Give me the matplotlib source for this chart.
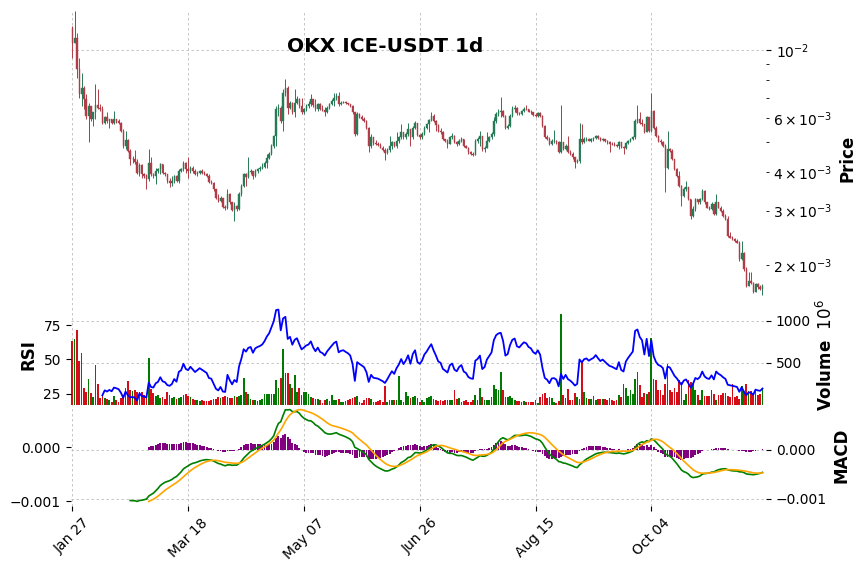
import numpy as np
import pandas as pd
import matplotlib
matplotlib.use("Agg")
import matplotlib.pyplot as plt

# daily OHLC, in milli-USDT (1e-3)
first_open = 11.82
close_m = [
    10.56, 10.97, 8.65, 7.18, 7.54, 6.91, 6.10, 6.58, 5.95, 6.26,
    6.62, 6.49, 6.41, 5.80, 6.03, 5.88, 5.95, 5.80, 5.95, 5.88,
    5.80, 5.45, 4.87, 5.10, 4.69, 4.41, 4.43, 4.32, 3.99, 4.23,
    3.94, 3.89, 3.80, 4.30, 3.94, 3.89, 4.04, 4.09, 4.25, 3.99,
    3.94, 3.75, 3.70, 3.75, 3.89, 3.75, 4.04, 4.09, 4.30, 4.09,
    4.04, 4.14, 4.04, 3.94, 3.99, 4.04, 3.99, 3.94, 3.89, 3.72,
    3.70, 3.52, 3.31, 3.23, 3.29, 3.09, 3.07, 3.39, 3.19, 3.02,
    3.11, 3.03, 3.39, 3.61, 3.94, 3.87, 4.01, 4.04, 3.89, 4.04,
    4.09, 4.12, 4.17, 4.28, 4.45, 4.58, 4.87, 5.23, 6.41, 6.49,
    5.88, 7.27, 7.54, 6.49, 6.71, 6.26, 6.74, 6.91, 6.58, 6.26,
    6.41, 6.58, 6.66, 6.91, 6.61, 6.41, 6.66, 6.44, 6.38, 6.26,
    6.49, 6.66, 6.83, 7.00, 7.09, 6.66, 6.74, 6.77, 6.71, 6.66,
    6.58, 6.26, 5.32, 6.18, 6.07, 5.98, 5.88, 5.59, 4.87, 5.19,
    4.97, 4.93, 4.90, 4.81, 4.73, 4.61, 4.73, 4.87, 5.00, 4.87,
    5.06, 5.19, 5.39, 5.19, 5.32, 5.52, 5.19, 5.59, 5.77, 5.28,
    5.19, 5.32, 5.59, 5.73, 5.92, 6.10, 5.88, 5.69, 5.45, 5.39,
    5.12, 5.04, 4.95, 5.19, 5.25, 5.00, 4.93, 5.06, 5.12, 4.87,
    4.81, 4.64, 4.58, 4.56, 5.06, 5.12, 5.23, 4.75, 4.81, 5.06,
    5.19, 5.32, 5.88, 6.18, 6.29, 6.33, 6.10, 5.59, 5.66, 6.10,
    6.41, 6.49, 6.22, 6.18, 6.32, 6.44, 6.41, 6.30, 6.26, 6.15,
    6.10, 6.22, 6.10, 5.66, 5.21, 5.12, 4.93, 5.06, 5.07, 5.00,
    4.66, 5.00, 4.75, 4.87, 4.66, 4.58, 4.47, 4.32, 4.36, 5.12,
    5.00, 5.12, 5.15, 5.07, 5.12, 5.16, 5.25, 5.16, 5.08, 5.12,
    5.06, 5.00, 4.95, 4.93, 4.90, 4.87, 5.00, 4.82, 4.78, 4.97,
    5.05, 5.12, 5.19, 5.88, 5.95, 5.80, 5.73, 5.39, 6.03, 5.45,
    6.33, 5.59, 5.25, 5.06, 5.00, 4.87, 4.14, 4.75, 4.69, 4.41,
    4.09, 3.89, 3.61, 3.35, 3.52, 3.57, 3.27, 2.89, 3.03, 3.27,
    3.19, 3.27, 3.48, 3.19, 3.07, 3.03, 3.15, 2.92, 3.19, 3.07,
    3.00, 2.89, 2.81, 2.48, 2.45, 2.42, 2.39, 2.36, 2.09, 2.19,
    1.94, 1.71, 1.77, 1.75, 1.63, 1.73, 1.69, 1.67, 1.71,
]
high_m = [
    11.97, 13.39, 11.39, 9.44, 8.44, 7.64, 7.18, 6.74, 6.58, 6.29,
    7.73, 7.45, 6.66, 6.58, 6.10, 6.29, 5.98, 5.95, 6.33, 5.98,
    5.95, 5.83, 5.52, 5.45, 5.12, 4.75, 4.52, 4.73, 4.41, 4.30,
    4.25, 3.99, 3.94, 4.75, 4.47, 3.99, 4.14, 4.14, 4.28, 4.25,
    4.01, 3.96, 3.84, 3.89, 3.91, 3.91, 4.09, 4.14, 4.36, 4.32,
    4.47, 4.20, 4.20, 4.09, 4.04, 4.07, 4.09, 4.04, 3.99, 3.94,
    3.78, 3.72, 3.54, 3.39, 3.35, 3.31, 3.12, 3.52, 3.42, 3.20,
    3.19, 3.12, 3.44, 3.66, 3.99, 3.99, 4.47, 4.09, 4.04, 4.11,
    4.14, 4.20, 4.30, 4.36, 4.58, 4.64, 4.93, 5.28, 6.58, 6.66,
    6.58, 7.45, 8.03, 7.64, 6.83, 6.78, 7.45, 7.09, 7.00, 7.00,
    6.49, 6.66, 6.83, 7.18, 6.95, 6.91, 6.74, 6.71, 6.61, 6.54,
    6.58, 6.74, 6.91, 7.23, 7.23, 7.29, 6.81, 6.84, 6.81, 6.74,
    6.69, 6.61, 6.29, 6.26, 6.22, 6.14, 6.03, 5.91, 5.63, 5.32,
    5.21, 5.10, 5.00, 4.97, 4.87, 4.78, 4.78, 5.25, 5.06, 5.02,
    5.39, 5.25, 5.73, 5.41, 5.39, 5.80, 5.55, 5.66, 5.88, 5.80,
    5.32, 5.39, 5.66, 5.80, 5.98, 6.26, 6.18, 5.91, 5.73, 5.59,
    5.45, 5.14, 5.12, 5.25, 5.35, 5.28, 5.06, 5.12, 5.19, 5.15,
    4.90, 4.84, 4.69, 4.64, 5.12, 5.19, 5.45, 5.25, 4.87, 5.39,
    5.25, 5.39, 6.03, 6.26, 6.41, 7.04, 6.38, 6.13, 5.73, 6.18,
    6.58, 6.61, 6.52, 6.29, 6.38, 6.52, 6.61, 6.44, 6.36, 6.29,
    6.22, 6.29, 6.26, 6.13, 5.69, 5.28, 5.19, 5.12, 5.50, 5.10,
    5.06, 6.61, 5.02, 4.93, 5.25, 4.72, 4.64, 4.50, 4.41, 5.77,
    5.73, 5.19, 5.19, 5.17, 5.17, 5.21, 5.30, 5.28, 5.20, 5.17,
    5.15, 5.08, 5.06, 5.00, 5.00, 4.94, 5.06, 5.02, 4.87, 5.02,
    5.10, 5.16, 5.25, 5.95, 6.61, 6.26, 5.95, 5.76, 6.10, 6.06,
    7.27, 6.38, 5.66, 5.28, 5.12, 5.06, 4.93, 5.45, 4.78, 4.75,
    4.43, 4.14, 4.04, 3.63, 3.57, 3.75, 3.58, 3.28, 3.11, 3.31,
    3.28, 3.31, 3.52, 3.51, 3.20, 3.11, 3.19, 3.16, 3.39, 3.20,
    3.11, 3.03, 2.92, 2.89, 2.55, 2.48, 2.45, 2.42, 2.39, 2.39,
    2.20, 1.96, 1.89, 1.89, 1.76, 1.75, 1.74, 1.72, 1.73,
]
low_m = [
    9.44, 10.51, 8.13, 7.00, 6.58, 6.41, 5.95, 5.00, 5.88, 5.66,
    5.95, 6.41, 6.33, 5.73, 5.73, 5.80, 5.59, 5.73, 5.73, 5.80,
    5.73, 5.41, 4.81, 4.75, 4.64, 4.22, 4.30, 4.25, 3.94, 3.89,
    3.84, 3.84, 3.52, 3.75, 3.89, 3.84, 3.66, 3.99, 3.94, 3.96,
    3.89, 3.70, 3.57, 3.61, 3.68, 3.72, 3.70, 4.01, 4.04, 3.99,
    3.84, 3.99, 3.99, 3.91, 3.89, 3.94, 3.96, 3.91, 3.86, 3.68,
    3.66, 3.48, 3.27, 3.19, 3.19, 3.05, 3.02, 3.03, 3.15, 3.00,
    2.78, 3.00, 3.02, 3.35, 3.57, 3.61, 3.84, 3.94, 3.80, 3.87,
    3.99, 4.04, 4.09, 4.14, 4.14, 4.41, 4.54, 4.81, 4.87, 6.10,
    5.80, 5.45, 7.09, 6.18, 6.41, 6.18, 6.03, 6.66, 6.49, 6.18,
    6.18, 6.33, 6.49, 6.58, 6.54, 6.33, 6.33, 6.38, 6.33, 6.10,
    6.22, 6.44, 6.61, 6.58, 6.88, 6.58, 6.61, 6.71, 6.66, 6.61,
    6.53, 6.18, 5.25, 5.28, 6.01, 5.92, 5.83, 5.55, 4.64, 4.81,
    4.92, 4.90, 4.87, 4.78, 4.69, 4.39, 4.57, 4.64, 4.75, 4.82,
    4.81, 4.97, 5.15, 5.15, 5.15, 5.23, 4.87, 5.12, 5.55, 5.23,
    5.15, 5.12, 5.28, 5.55, 5.39, 5.88, 5.83, 5.45, 5.41, 5.32,
    5.10, 5.00, 4.81, 4.93, 5.15, 4.97, 4.87, 4.90, 5.02, 4.84,
    4.78, 4.60, 4.55, 4.52, 4.55, 4.97, 4.87, 4.69, 4.64, 4.78,
    5.00, 5.15, 5.25, 5.80, 6.10, 6.03, 6.03, 5.52, 5.52, 5.63,
    6.03, 6.29, 6.16, 6.13, 6.14, 6.29, 6.36, 6.26, 6.21, 6.10,
    6.06, 6.07, 6.06, 5.62, 5.17, 5.08, 4.90, 4.90, 4.97, 4.96,
    4.61, 4.61, 4.72, 4.73, 4.62, 4.55, 4.43, 4.14, 4.28, 4.30,
    4.96, 4.97, 5.06, 5.04, 5.02, 5.07, 5.12, 5.12, 5.05, 5.05,
    5.02, 4.95, 4.64, 4.90, 4.87, 4.84, 4.75, 4.79, 4.58, 4.75,
    4.95, 5.00, 5.08, 5.15, 5.80, 5.73, 5.66, 5.35, 5.39, 5.41,
    5.39, 5.55, 5.21, 5.02, 4.96, 4.84, 3.44, 4.11, 4.66, 4.38,
    4.06, 3.86, 3.57, 3.11, 3.33, 3.48, 3.24, 2.81, 2.86, 3.00,
    3.16, 3.16, 3.24, 3.16, 3.05, 3.01, 3.01, 2.90, 2.90, 3.05,
    2.97, 2.86, 2.79, 2.47, 2.44, 2.41, 2.38, 2.35, 2.06, 2.07,
    1.91, 1.69, 1.70, 1.73, 1.62, 1.63, 1.67, 1.65, 1.59,
]
# volume in millions
volume_m = [
    758, 782, 889, 520, 615, 198, 155, 306, 147, 91,
    472, 246, 79, 103, 87, 71, 56, 40, 103, 56,
    36, 83, 115, 198, 286, 175, 167, 175, 159, 159,
    159, 115, 135, 556, 187, 143, 107, 115, 87, 95,
    71, 151, 115, 83, 91, 71, 87, 95, 115, 131,
    111, 95, 75, 64, 56, 44, 56, 44, 44, 48,
    56, 71, 75, 95, 83, 95, 103, 95, 87, 83,
    103, 99, 111, 115, 326, 155, 127, 75, 56, 64,
    48, 56, 75, 135, 127, 135, 135, 135, 302, 206,
    318, 671, 381, 377, 254, 206, 353, 155, 206, 115,
    159, 151, 135, 95, 87, 75, 75, 56, 28, 56,
    67, 48, 115, 64, 56, 67, 32, 32, 48, 56,
    75, 87, 95, 103, 36, 28, 56, 83, 83, 67,
    36, 32, 48, 56, 32, 226, 40, 60, 56, 64,
    64, 341, 64, 36, 155, 103, 87, 95, 103, 79,
    36, 56, 36, 87, 95, 103, 67, 56, 44, 64,
    48, 64, 56, 56, 56, 175, 75, 83, 36, 44,
    56, 36, 36, 56, 123, 56, 206, 95, 56, 56,
    56, 95, 234, 195, 175, 389, 175, 95, 95, 107,
    87, 56, 44, 48, 36, 44, 36, 32, 40, 32,
    56, 24, 95, 135, 139, 83, 92, 83, 30, 20,
    48, 1080, 119, 83, 190, 60, 60, 139, 92, 70,
    524, 158, 83, 68, 68, 107, 60, 68, 67, 75,
    71, 56, 83, 56, 44, 56, 115, 90, 254, 206,
    103, 183, 135, 310, 389, 242, 95, 143, 135, 155,
    798, 306, 294, 183, 183, 115, 250, 490, 175, 155,
    206, 155, 300, 274, 64, 135, 294, 274, 262, 183,
    115, 64, 175, 103, 103, 103, 175, 135, 64, 123,
    123, 147, 147, 103, 95, 254, 95, 103, 75, 226,
    155, 246, 167, 167, 127, 167, 115, 127, 187,
]

dates = pd.date_range("2025-01-27", periods=len(close_m), freq="D")

closes = pd.Series(close_m) * 1e-3
highs = np.array(high_m) * 1e-3
lows = np.array(low_m) * 1e-3
opens = np.r_[first_open * 1e-3, closes.values[:-1]]
vols = np.array(volume_m, dtype=float)
x = np.arange(len(closes))

# RSI 14 (Wilder)
diff = closes.diff()
up = diff.where(diff > 0, 0.0)
dn = -diff.where(diff < 0, 0.0)
avg_up = up.ewm(alpha=1 / 14, min_periods=14, adjust=False).mean()
avg_dn = dn.ewm(alpha=1 / 14, min_periods=14, adjust=False).mean()
rsi = 100 - 100 / (1 + avg_up / avg_dn)

# MACD 12/26/9
ema12 = closes.ewm(span=12, min_periods=12, adjust=False).mean()
ema26 = closes.ewm(span=26, min_periods=26, adjust=False).mean()
macd = ema12 - ema26
signal = macd.ewm(span=9, min_periods=9, adjust=False).mean()
hist = macd - signal

is_up = closes.values >= opens
candle_col = np.where(is_up, "#267a55", "#b03c47")
vol_col = np.where(is_up, "#007a00", "#d50d18")

grid_kw = dict(linestyle=(0, (3, 3)), linewidth=0.6, color="#bdbdbd")

fig = plt.figure(figsize=(8.65, 5.71), dpi=100)
L, W = 0.0817, 0.8038
ax = fig.add_axes([L, 0.4658, W, 0.5149])
axv = fig.add_axes([L, 0.2907, W, 0.1751], sharex=ax)
axm = fig.add_axes([L, 0.1138, W, 0.1769], sharex=ax)

# candles
ax.vlines(x, lows, highs, color=candle_col, linewidth=0.7)
ax.bar(x, closes.values - opens, bottom=opens, width=0.6,
       color=candle_col, edgecolor=candle_col, linewidth=0.3)
ax.set_yscale("log")
ax.set_ylim(lows.min() * 0.93, highs.max())
ax.set_ylabel("Price", fontsize=12, fontweight="bold")

# volume + RSI
axv.bar(x, vols, width=0.75, color=vol_col)
axv.set_ylim(0, 1.1 * vols.max())
axv.set_yticks([500, 1000])
axv.set_ylabel("Volume  $10^{6}$", fontsize=12, fontweight="bold")
axr = axv.twinx()
axr.plot(x, rsi, color="blue", linewidth=1.3)
axr.set_yticks([25, 50, 75])
axr.yaxis.tick_left()
axr.yaxis.set_label_position("left")
axr.set_ylabel("RSI", fontsize=12, fontweight="bold")

# MACD
axm.bar(x, hist, width=0.8, color="purple")
axm.plot(x, macd, color="green", linewidth=1.2)
axm.set_yticks([-0.001, 0.0])
axm.set_ylabel("MACD", fontsize=12, fontweight="bold")
axs = axm.twinx()
axs.plot(x, signal, color="orange", linewidth=1.2)
axs.set_yticks([-0.001, 0.0])
axs.yaxis.tick_left()

for a in (ax, axv, axm):
    a.yaxis.tick_right()
    a.yaxis.set_label_position("right")
    a.grid(True, **grid_kw)
    a.set_axisbelow(True)
for a in (ax, axv, axm, axr, axs):
    for s in a.spines.values():
        s.set_visible(False)
    a.tick_params(labelsize=10)

ax.tick_params(axis="x", bottom=False, labelbottom=False)
axv.tick_params(axis="x", bottom=False, labelbottom=False)

ticks = list(range(0, len(x), 50))
axm.set_xticks(ticks)
axm.set_xticklabels([dates[t].strftime("%b %d") for t in ticks], rotation=45)
ax.set_xlim(-0.7, 299.5)

fig.text(0.445, 0.918, "OKX ICE-USDT 1d", ha="center", va="center",
         fontsize=14.5, fontweight="bold")

fig.savefig("out.png", dpi=100)
